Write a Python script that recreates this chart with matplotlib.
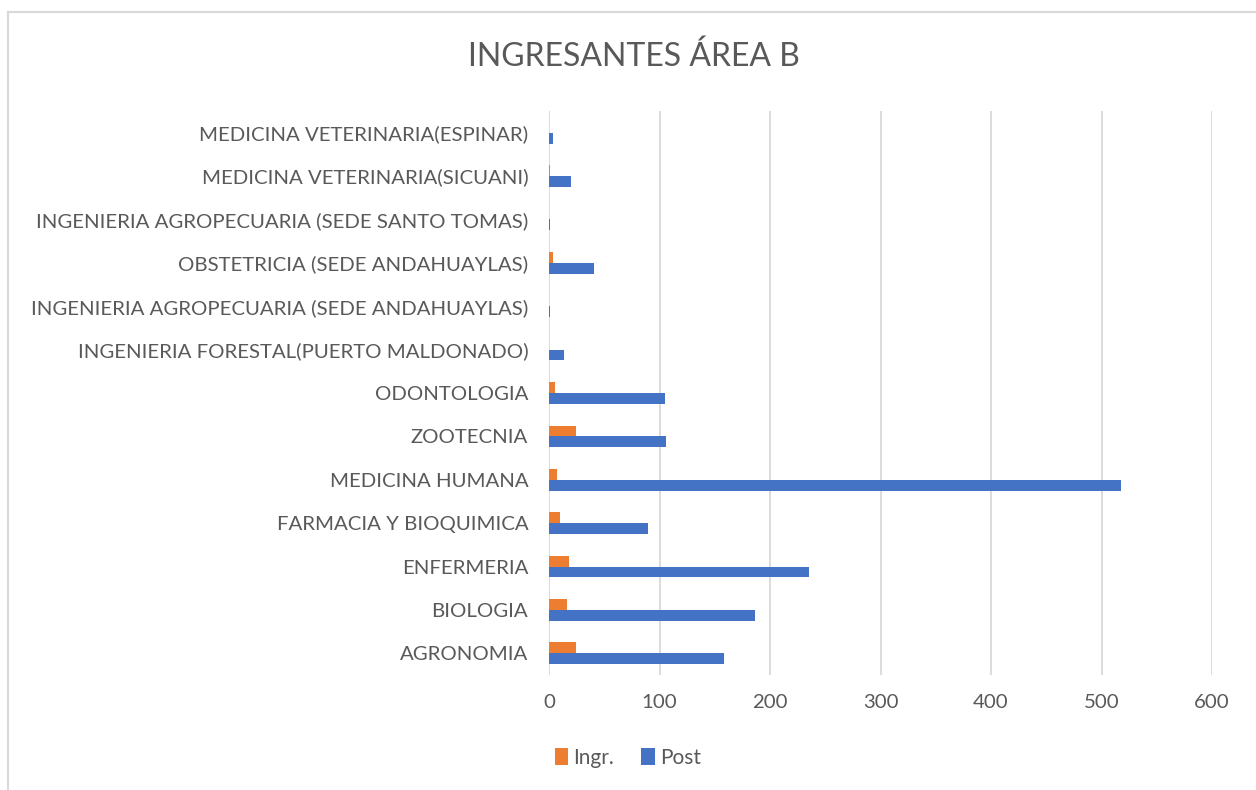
import matplotlib
matplotlib.use("Agg")
import matplotlib.pyplot as plt
import numpy as np
from matplotlib.lines import Line2D

# Datos (de abajo hacia arriba, como en el gráfico)
carreras = [
    "AGRONOMIA",
    "BIOLOGIA",
    "ENFERMERIA",
    "FARMACIA Y BIOQUIMICA",
    "MEDICINA HUMANA",
    "ZOOTECNIA",
    "ODONTOLOGIA",
    "INGENIERIA FORESTAL(PUERTO MALDONADO)",
    "INGENIERIA AGROPECUARIA (SEDE ANDAHUAYLAS)",
    "OBSTETRICIA (SEDE ANDAHUAYLAS)",
    "INGENIERIA AGROPECUARIA (SEDE SANTO TOMAS)",
    "MEDICINA VETERINARIA(SICUANI)",
    "MEDICINA VETERINARIA(ESPINAR)",
]
ingresantes = [24, 16, 18, 10, 7, 24, 5, 0, 0, 4, 0, 1, 0]
postulantes = [158, 186, 235, 90, 518, 106, 105, 14, 1, 41, 1, 20, 4]
ticks_x = [0, 100, 200, 300, 400, 500, 600]

color_ingr = "#ED7D31"
color_post = "#4472C4"
gris_texto = "#595959"
gris_linea = "#D9D9D9"

plt.rcParams["font.family"] = ["Lato", "DejaVu Sans"]

fig = plt.figure(figsize=(12.56, 7.9), dpi=100)
ax = fig.add_axes([549 / 1256, 1 - 675 / 790, (1212 - 549) / 1256, (675 - 111) / 790])

y = np.arange(len(carreras))
alto = 0.25
ax.barh(y + alto / 2, ingresantes, height=alto, color=color_ingr, label="Ingr.", zorder=3)
ax.barh(y - alto / 2, postulantes, height=alto, color=color_post, label="Post", zorder=3)

ax.set_xlim(0, 600)
ax.set_ylim(-0.5, len(carreras) - 0.5)
ax.set_xticks(ticks_x)
ax.set_xticklabels([str(t) for t in ticks_x])
ax.set_yticks(y)
ax.set_yticklabels(carreras)
ax.tick_params(axis="both", length=0, labelsize=14.7, colors=gris_texto)
ax.tick_params(axis="x", pad=14)
ax.tick_params(axis="y", pad=15)
ax.grid(axis="x", color=gris_linea, linewidth=1.3, zorder=0)
for s in ax.spines.values():
    s.set_visible(False)

fig.text(0.505, 1 - 57 / 790, "INGRESANTES ÁREA B", ha="center", va="center",
         fontsize=23, color=gris_texto)

# marco del área del gráfico (recortado a la derecha y abajo)
fig.add_artist(Line2D([8 / 1256, 1.0], [1 - 12 / 790] * 2, color=gris_linea, lw=1.5,
                      transform=fig.transFigure))
fig.add_artist(Line2D([8 / 1256] * 2, [0, 1 - 12 / 790], color=gris_linea, lw=1.5,
                      transform=fig.transFigure))

fig.legend(loc="center", bbox_to_anchor=(628 / 1256, 1 - 758 / 790), ncol=2,
           frameon=False, fontsize=15, labelcolor=gris_texto, handlelength=0.65,
           handleheight=0.9, handletextpad=0.25, columnspacing=1.3)

fig.savefig("out.png", dpi=100)
